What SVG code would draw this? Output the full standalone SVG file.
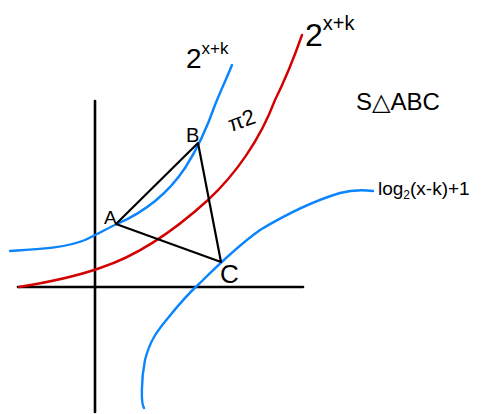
<svg xmlns="http://www.w3.org/2000/svg" width="482" height="414" viewBox="0 0 482 414">
<style>
.ax{stroke:#000;stroke-width:2.6;fill:none;stroke-linecap:round}
.blue{stroke:#0a84ff;stroke-width:2.4;fill:none;stroke-linecap:round;stroke-linejoin:round}
.red{stroke:#d20000;stroke-width:2.4;fill:none;stroke-linecap:round;stroke-linejoin:round}
.tri{stroke:#000;stroke-width:2.2;fill:none;stroke-linecap:round;stroke-linejoin:round}
.t{font-family:"Liberation Sans","DejaVu Sans",sans-serif;fill:#000}
</style>
<rect width="482" height="414" fill="#fff"/>
<g id="axes">
<path class="ax" d="M95 101 L95 412"/>
<path class="ax" d="M18 287 L303 287"/>
</g>
<g id="curves">
<path id="red-curve" class="red" d="M19 287 C50 282 80 275 100 268 C140 255 175 230 208 200 C235 175 260 140 275 100 C285 80 295 55 302 35"/>
<path id="blue-top" class="blue" d="M10 251 C40 249 65 248 85 240 C100 233 108 228 117 224 C140 214 165 198 185 168 C198 148 208 125 215 105 C222 88 228 75 232 65"/>
<path id="blue-log" class="blue" d="M144 408 C141 404 141 380 145 360 C150 340 158 330 168 318 C180 303 190 292 200 283 C215 268 235 248 260 230 C285 215 310 202 340 193 C355 189 365 190 373 191"/>
</g>
<g id="triangle">
<path class="tri" d="M116 224 L198 143 L221 262 Z"/>
</g>
<g id="labels">
<text class="t" x="104" y="224" font-size="19">A</text>
<text class="t" x="186" y="142" font-size="20">B</text>
<text class="t" x="220" y="283" font-size="26">C</text>
<text class="t" x="186" y="68" font-size="28">2<tspan dy="-14" font-size="17">x+k</tspan></text>
<text class="t" x="305" y="46" font-size="32">2<tspan dy="-16" font-size="20">x+k</tspan></text>
<text class="t" x="226" y="128" font-size="22" transform="rotate(-20 240 115)">π2</text>
<text class="t" x="356" y="110" font-size="24">S△ABC</text>
<text class="t" x="378" y="195" font-size="19">log<tspan dy="4" font-size="12">2</tspan><tspan dy="-4">(x-k)+1</tspan></text>
</g>
</svg>
